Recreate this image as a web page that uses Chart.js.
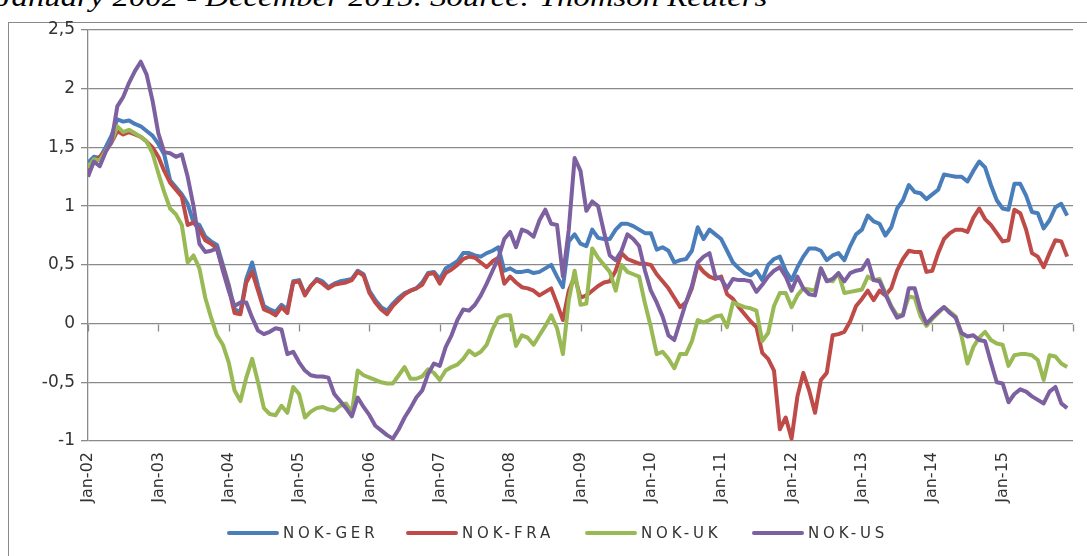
<!DOCTYPE html>
<html lang="en">
<head>
<meta charset="UTF-8">
<title>NOK spreads</title>
<script src="https://cdn.jsdelivr.net/npm/chart.js"></script>
<style>
    body { margin: 0; background: #fff; }
    #wrap { position: relative; width: 1087px; height: 556px; overflow: hidden; }
    #caption {
        position: absolute; left: -3px; top: -17px; white-space: nowrap;
        font: italic 28px "Liberation Serif", serif; line-height: 28px; color: #000;
        transform: scaleX(1.17); transform-origin: left top;
    }
    #frame { position: absolute; left: 8px; top: 22px; width: 1100px; height: 600px;
        border-left: 1.5px solid #8a8a8a; border-top: 1.5px solid #8a8a8a; }
    #chart { position: absolute; left: 0; top: 0; }
    .leg { position: absolute; top: 524px; height: 18px; }
    .leg span.line { position: absolute; top: 7px; width: 52px; height: 4px; border-radius: 2px; }
    .leg span.txt { position: absolute; left: 56px; top: 0; font: 15px "DejaVu Sans", sans-serif;
        letter-spacing: 3.8px; color: #333; white-space: nowrap; line-height: 18px; }
</style>
</head>
<body>
<div id="wrap">
    <div id="caption">January 2002 - December 2015. Source: Thomson Reuters</div>
    <div id="frame"></div>
    <canvas id="chart" width="1087" height="556"></canvas>
</div>
<script>
// spreads against Norway, monthly Jan-02 .. Dec-15
const tickLabels = ['Jan-02','Jan-03','Jan-04','Jan-05','Jan-06','Jan-07','Jan-08',
                    'Jan-09','Jan-10','Jan-11','Jan-12','Jan-13','Jan-14','Jan-15',''];
const seriesNames = ['NOK-GER', 'NOK-FRA', 'NOK-UK', 'NOK-US'];
const seriesColors = ['#4a7ebb', '#be4b48', '#98b954', '#7d60a0'];

const nokGer = [
 1.37,1.42,1.41,1.50,1.60,1.74,1.72,1.73,1.70,1.68,1.64,1.60,
 1.53,1.44,1.22,1.16,1.10,1.02,0.86,0.84,0.74,0.70,0.67,0.50,
 0.33,0.12,0.10,0.38,0.52,0.32,0.15,0.12,0.10,0.16,0.12,0.36,
 0.37,0.25,0.32,0.38,0.36,0.31,0.34,0.36,0.37,0.38,0.45,0.42,
 0.28,0.20,0.14,0.11,0.17,0.22,0.26,0.28,0.30,0.35,0.43,0.44,
 0.38,0.47,0.50,0.53,0.60,0.60,0.58,0.57,0.60,0.62,0.65,0.45,
 0.47,0.44,0.44,0.45,0.43,0.44,0.47,0.50,0.40,0.31,0.70,0.76,
 0.68,0.66,0.80,0.73,0.72,0.72,0.80,0.85,0.85,0.83,0.80,0.77,
 0.77,0.63,0.65,0.62,0.52,0.54,0.55,0.62,0.82,0.72,0.80,0.76,
 0.72,0.62,0.52,0.47,0.43,0.41,0.45,0.37,0.50,0.55,0.57,0.45,
 0.37,0.48,0.57,0.64,0.64,0.62,0.54,0.58,0.60,0.54,0.66,0.76,
 0.80,0.92,0.87,0.85,0.75,0.82,0.98,1.05,1.18,1.12,1.11,1.06,
 1.10,1.14,1.27,1.26,1.25,1.25,1.21,1.30,1.38,1.33,1.18,1.05,
 0.98,0.97,1.19,1.19,1.09,0.95,0.94,0.81,0.88,0.99,1.02,0.92
];
const nokFra = [
 1.28,1.38,1.42,1.47,1.54,1.64,1.61,1.63,1.61,1.59,1.55,1.50,
 1.42,1.30,1.20,1.14,1.08,0.84,0.86,0.80,0.71,0.68,0.64,0.47,
 0.30,0.09,0.08,0.35,0.44,0.28,0.12,0.10,0.07,0.14,0.09,0.35,
 0.36,0.24,0.32,0.37,0.34,0.30,0.33,0.34,0.35,0.37,0.44,0.41,
 0.26,0.18,0.12,0.08,0.15,0.20,0.25,0.28,0.30,0.33,0.42,0.43,
 0.34,0.43,0.46,0.50,0.55,0.57,0.56,0.52,0.48,0.53,0.56,0.34,
 0.40,0.35,0.31,0.30,0.28,0.24,0.27,0.30,0.17,0.03,0.28,0.40,
 0.22,0.24,0.28,0.32,0.35,0.36,0.45,0.60,0.55,0.53,0.51,0.51,
 0.50,0.42,0.36,0.30,0.22,0.14,0.18,0.30,0.50,0.44,0.40,0.38,
 0.40,0.25,0.21,0.14,0.08,0.02,-0.03,-0.25,-0.30,-0.40,-0.90,-0.80,
 -0.98,-0.62,-0.42,-0.57,-0.76,-0.48,-0.42,-0.10,-0.09,-0.07,0.02,0.15,
 0.21,0.28,0.20,0.28,0.24,0.30,0.45,0.55,0.62,0.61,0.61,0.44,
 0.45,0.60,0.72,0.77,0.80,0.80,0.78,0.90,0.98,0.89,0.84,0.77,
 0.70,0.71,0.97,0.94,0.80,0.60,0.57,0.48,0.60,0.71,0.70,0.57
];
const nokUk = [
 1.33,1.40,1.39,1.47,1.55,1.68,1.63,1.65,1.62,1.59,1.55,1.45,
 1.28,1.12,0.98,0.93,0.84,0.52,0.58,0.47,0.22,0.05,-0.10,-0.18,
 -0.33,-0.57,-0.66,-0.46,-0.30,-0.50,-0.72,-0.77,-0.78,-0.70,-0.76,-0.54,
 -0.60,-0.80,-0.75,-0.72,-0.71,-0.73,-0.74,-0.70,-0.68,-0.76,-0.40,-0.44,
 -0.46,-0.48,-0.50,-0.51,-0.51,-0.44,-0.37,-0.47,-0.47,-0.45,-0.39,-0.42,
 -0.48,-0.40,-0.37,-0.35,-0.30,-0.23,-0.27,-0.24,-0.18,-0.05,0.05,0.07,
 0.07,-0.19,-0.10,-0.12,-0.18,-0.10,-0.02,0.07,-0.04,-0.26,0.20,0.45,
 0.16,0.17,0.64,0.56,0.50,0.44,0.28,0.50,0.44,0.42,0.40,0.17,
 -0.03,-0.26,-0.24,-0.30,-0.38,-0.26,-0.26,-0.15,0.03,0.01,0.03,0.06,
 0.07,-0.03,0.18,0.16,0.14,0.13,0.11,-0.15,-0.08,0.15,0.26,0.26,
 0.14,0.24,0.30,0.29,0.28,0.47,0.37,0.36,0.43,0.26,0.27,0.28,
 0.29,0.40,0.37,0.38,0.26,0.15,0.07,0.08,0.23,0.22,0.06,-0.02,
 0.04,0.09,0.14,0.10,0.06,-0.11,-0.34,-0.20,-0.12,-0.07,-0.14,-0.17,
 -0.18,-0.36,-0.27,-0.26,-0.26,-0.27,-0.31,-0.48,-0.27,-0.28,-0.34,-0.37
];
const nokUs = [
 1.25,1.38,1.34,1.46,1.55,1.85,1.93,2.05,2.15,2.23,2.12,1.90,
 1.62,1.46,1.45,1.42,1.44,1.25,1.00,0.68,0.61,0.62,0.64,0.45,
 0.28,0.15,0.18,0.18,0.05,-0.06,-0.09,-0.07,-0.04,-0.05,-0.26,-0.24,
 -0.33,-0.40,-0.44,-0.45,-0.45,-0.46,-0.60,-0.66,-0.72,-0.79,-0.63,-0.71,
 -0.78,-0.87,-0.91,-0.95,-0.98,-0.90,-0.80,-0.72,-0.63,-0.57,-0.43,-0.34,
 -0.36,-0.20,-0.10,0.03,0.12,0.11,0.16,0.24,0.34,0.45,0.56,0.72,
 0.78,0.65,0.80,0.78,0.74,0.88,0.97,0.85,0.84,0.40,0.80,1.41,
 1.30,0.96,1.04,1.00,0.78,0.58,0.54,0.62,0.76,0.72,0.66,0.45,
 0.28,0.18,0.06,-0.10,-0.14,0.02,0.18,0.32,0.52,0.57,0.60,0.40,
 0.38,0.30,0.38,0.37,0.37,0.36,0.27,0.33,0.40,0.45,0.48,0.40,
 0.28,0.40,0.30,0.25,0.24,0.47,0.36,0.38,0.43,0.36,0.43,0.45,
 0.46,0.54,0.37,0.36,0.25,0.14,0.05,0.07,0.30,0.30,0.12,0.00,
 0.05,0.10,0.14,0.09,0.05,-0.08,-0.11,-0.10,-0.14,-0.15,-0.33,-0.50,
 -0.51,-0.67,-0.60,-0.56,-0.58,-0.62,-0.65,-0.68,-0.58,-0.54,-0.68,-0.72
];
const seriesValues = [nokGer, nokFra, nokUk, nokUs];

// legend, drawn as html so the wide letter spacing can be matched
const legendLeft = [227, 406, 585, 752];
seriesNames.forEach((name, k) => {
    const d = document.createElement('div');
    d.className = 'leg';
    d.style.left = legendLeft[k] + 'px';
    d.innerHTML = `<span class="line" style="background:${seriesColors[k]}"></span><span class="txt">${name}</span>`;
    document.getElementById('wrap').appendChild(d);
});

// small tick marks on the zero line, like the excel category axis
const zeroTicks = {
    id: 'zeroTicks',
    beforeDatasetsDraw(chart) {
        const x = chart.scales.x, y = chart.scales.y;
        const py = Math.round(y.getPixelForValue(0)) + 0.5;
        const ctx = chart.ctx;
        ctx.save();
        ctx.strokeStyle = '#8a8a8a';
        ctx.lineWidth = 1.3;
        x.ticks.forEach(t => {
            const px = Math.round(x.getPixelForValue(t.value)) + 0.5;
            ctx.beginPath();
            ctx.moveTo(px, py);
            ctx.lineTo(px, py + 7);
            ctx.stroke();
        });
        ctx.restore();
    }
};

const ctx = document.getElementById('chart').getContext('2d');
new Chart(ctx, {
    type: 'line',
    data: {
        datasets: seriesNames.map((name, k) => ({
            label: name,
            data: seriesValues[k].map((v, i) => ({ x: i, y: v })),
            borderColor: seriesColors[k],
            borderWidth: 4,
            pointRadius: 0,
            tension: 0,
            borderJoinStyle: 'round',
            order: 4 - k
        }))
    },
    options: {
        responsive: false,
        animation: false,
        devicePixelRatio: 1,
        layout: { padding: { left: 0, right: 14, top: 30, bottom: 0 } },
        plugins: { legend: { display: false }, tooltip: { enabled: false } },
        scales: {
            x: {
                type: 'linear',
                min: 0,
                max: 168,
                afterFit: s => {
                    s.height = 115;
                    s.paddingLeft = 0;
                    s.paddingRight = 0;
                },
                afterBuildTicks: s => {
                    s.ticks = tickLabels.map((t, k) => ({ value: k * 12 }));
                },
                ticks: {
                    autoSkip: false,
                    minRotation: 90,
                    maxRotation: 90,
                    padding: 11,
                    color: '#333',
                    font: { family: 'DejaVu Sans', size: 16 },
                    callback: (v, idx) => tickLabels[idx]
                },
                grid: { display: false, drawTicks: false },
                border: { display: false }
            },
            y: {
                min: -1,
                max: 2.5,
                afterFit: s => { s.width = 88; },
                ticks: {
                    stepSize: 0.5,
                    padding: 6,
                    color: '#333',
                    font: { family: 'DejaVu Sans', size: 17 },
                    callback: v => String(v).replace('.', ',')
                },
                grid: { color: '#8a8a8a', lineWidth: 1.3, tickLength: 7 },
                border: { color: '#8a8a8a', width: 1.3 }
            }
        }
    },
    plugins: [zeroTicks]
});
</script>
</body>
</html>
